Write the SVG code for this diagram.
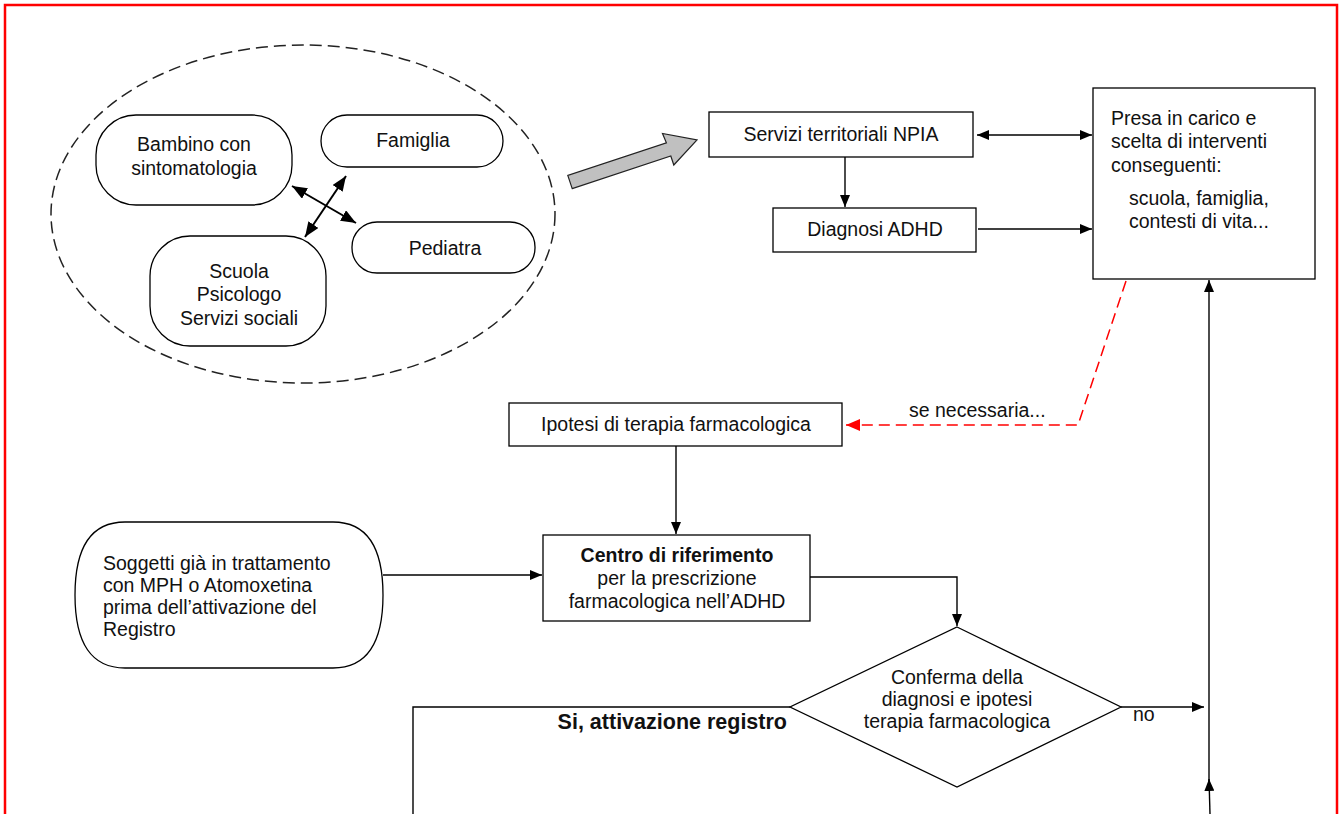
<svg xmlns="http://www.w3.org/2000/svg" width="1342" height="814" viewBox="0 0 1342 814">
  <style>
    .box { fill: #fff; stroke: #000; stroke-width: 1.3; }
    .t { font-family: "Liberation Sans", Arial, sans-serif; font-size: 19.5px; fill: #111; }
    .c { text-anchor: middle; }
    .b { font-weight: bold; }
    .ln { fill: none; stroke: #000; stroke-width: 1.4; }
    .ln2 { fill: none; stroke: #000; stroke-width: 2; }
    .red { fill: none; stroke: #f00; stroke-width: 1.5; stroke-dasharray: 11 6; }
  </style>
  <defs>
    <marker id="ah" viewBox="0 0 12 10" refX="12" refY="5" markerWidth="12" markerHeight="10" markerUnits="userSpaceOnUse" orient="auto-start-reverse">
      <path d="M0,0 L12,5 L0,10 z" fill="#000"/>
    </marker>
    <marker id="ahb" viewBox="0 0 15 12" refX="15" refY="6" markerWidth="15" markerHeight="12" markerUnits="userSpaceOnUse" orient="auto-start-reverse">
      <path d="M0,0 L15,6 L0,12 z" fill="#000"/>
    </marker>
    <marker id="ahr" viewBox="0 0 14 12" refX="14" refY="6" markerWidth="14" markerHeight="12" markerUnits="userSpaceOnUse" orient="auto">
      <path d="M0,0 L14,6 L0,12 z" fill="#f00"/>
    </marker>
  </defs>

  <!-- page frame -->
  <rect x="5" y="5" width="1332" height="830" fill="none" stroke="#f00" stroke-width="2.5"/>

  <!-- dashed grouping of the actors around the child -->
  <g id="gruppo">
    <ellipse cx="303" cy="214" rx="252" ry="169" fill="none" stroke="#222" stroke-width="1.5" stroke-dasharray="12 6"/>
  </g>

  <g id="bambino">
    <rect class="box" x="96" y="115" width="196" height="90" rx="40" ry="40"/>
    <text class="t c" x="194" y="151">Bambino con</text>
    <text class="t c" x="194" y="175">sintomatologia</text>
  </g>
  <g id="famiglia">
    <rect class="box" x="321" y="115" width="182" height="52" rx="26" ry="26"/>
    <text class="t c" x="413" y="147">Famiglia</text>
  </g>
  <g id="pediatra">
    <rect class="box" x="352" y="222" width="183" height="51" rx="25" ry="25"/>
    <text class="t c" x="445" y="255">Pediatra</text>
  </g>
  <g id="scuola">
    <rect class="box" x="150" y="236" width="176" height="110" rx="40" ry="40"/>
    <text class="t c" x="239" y="278">Scuola</text>
    <text class="t c" x="239" y="301">Psicologo</text>
    <text class="t c" x="239" y="325">Servizi sociali</text>
  </g>

  <!-- grey block arrow to the local services -->
  <g id="freccia-servizi">
    <polygon points="572.2,188.6 670.8,156 673.8,165 697,140 662.5,133.5 666.4,142.8 567.8,175.4" fill="#c0c0c0" stroke="#222" stroke-width="1.2"/>
  </g>

  <g id="npia">
    <rect class="box" x="709" y="112" width="264" height="45"/>
    <text class="t c" x="841" y="141">Servizi territoriali NPIA</text>
  </g>
  <g id="diagnosi">
    <rect class="box" x="773" y="208" width="203" height="44"/>
    <text class="t c" x="875" y="236">Diagnosi ADHD</text>
  </g>
  <g id="presa">
    <rect class="box" x="1093" y="88" width="222" height="191"/>
    <text class="t" x="1111" y="125">Presa in carico e</text>
    <text class="t" x="1111" y="148">scelta di interventi</text>
    <text class="t" x="1111" y="172">conseguenti:</text>
    <text class="t" x="1129" y="205">scuola, famiglia,</text>
    <text class="t" x="1129" y="228">contesti di vita...</text>
  </g>

  <g id="ipotesi">
    <rect class="box" x="509" y="403" width="333" height="43"/>
    <text class="t c" x="676" y="431">Ipotesi di terapia farmacologica</text>
  </g>

  <g id="centro">
    <rect class="box" x="543" y="535" width="267" height="86"/>
    <text class="t c b" x="677" y="562">Centro di riferimento</text>
    <text class="t c" x="677" y="585">per la prescrizione</text>
    <text class="t c" x="677" y="608">farmacologica nell’ADHD</text>
  </g>

  <g id="soggetti">
    <path class="box" d="M125,522 L333,522 Q383,522 383,595 Q383,668 333,668 L125,668 Q75,668 75,595 Q75,522 125,522 Z"/>
    <text class="t" x="103" y="570">Soggetti già in trattamento</text>
    <text class="t" x="103" y="592">con MPH o Atomoxetina</text>
    <text class="t" x="103" y="614">prima dell’attivazione del</text>
    <text class="t" x="103" y="636">Registro</text>
  </g>

  <g id="conferma">
    <polygon class="box" points="957,627 1121,707 957,787 790,707"/>
    <text class="t c" x="957" y="684">Conferma della</text>
    <text class="t c" x="957" y="706">diagnosi e ipotesi</text>
    <text class="t c" x="957" y="728">terapia farmacologica</text>
  </g>

  <g id="connettori">
    <!-- relations among the actors -->
    <line class="ln2" x1="292" y1="186" x2="356" y2="223" marker-start="url(#ahb)" marker-end="url(#ahb)"/>
    <line class="ln2" x1="346" y1="176" x2="305" y2="237" marker-start="url(#ahb)" marker-end="url(#ahb)"/>
    <!-- services -->
    <line class="ln" x1="977" y1="135" x2="1092" y2="135" marker-start="url(#ah)" marker-end="url(#ah)"/>
    <line class="ln" x1="845" y1="157" x2="845" y2="207" marker-end="url(#ah)"/>
    <line class="ln" x1="978" y1="229" x2="1092" y2="229" marker-end="url(#ah)"/>
    <!-- optional pharmacological path -->
    <polyline class="red" points="1126,281 1078,425 846,425" marker-end="url(#ahr)"/>
    <text class="t" x="909" y="417">se necessaria...</text>
    <line class="ln" x1="676" y1="446" x2="676" y2="534" marker-end="url(#ah)"/>
    <line class="ln" x1="383" y1="575" x2="542" y2="575" marker-end="url(#ah)"/>
    <polyline class="ln" points="810,577 957,577 957,626" marker-end="url(#ah)"/>
    <!-- outcomes of the check -->
    <line class="ln" x1="1121" y1="707" x2="1204" y2="707" marker-end="url(#ah)"/>
    <text class="t" x="1133" y="721">no</text>
    <polyline class="ln" points="790,707 413,707 413,814"/>
    <text class="t b" x="787" y="729" text-anchor="end" style="font-size:21.5px">Si, attivazione registro</text>
    <line class="ln" x1="1209" y1="790" x2="1209" y2="280" marker-end="url(#ah)"/>
    <line class="ln" x1="1210" y1="814" x2="1209" y2="779" marker-end="url(#ah)"/>
  </g>
</svg>
